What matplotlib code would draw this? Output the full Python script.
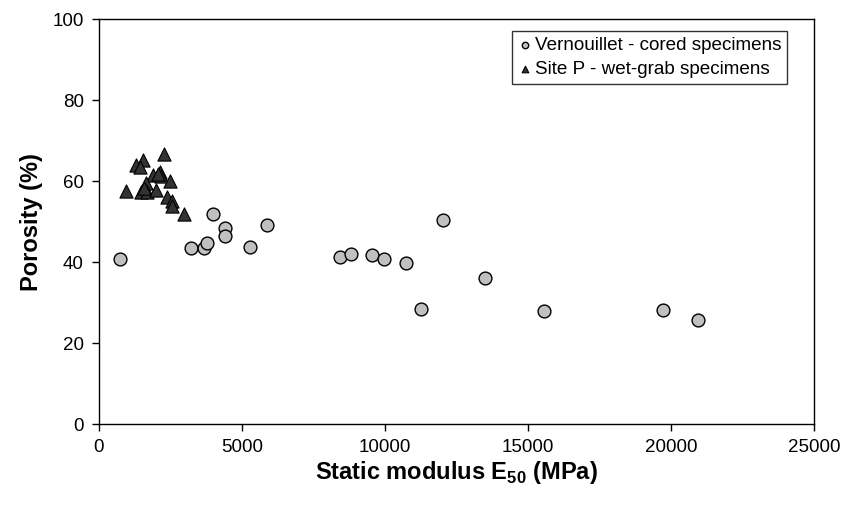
import numpy as np
import matplotlib
matplotlib.use("Agg")
import matplotlib.pyplot as plt

plt.rcParams['font.family'] = ['Liberation Sans', 'DejaVu Sans']
plt.rcParams['mathtext.fontset'] = 'custom'
plt.rcParams['mathtext.rm'] = 'Liberation Sans'
plt.rcParams['mathtext.bf'] = 'Liberation Sans:bold'

# Vernouillet - cored specimens
vern_E = [723, 3226, 3680, 3785, 3974, 4393, 4404, 5267, 5861, 8412,
          8807, 9552, 9950, 10730, 12012, 13502, 11243, 15553, 19701, 20925]
vern_por = [40.8, 43.4, 43.6, 44.8, 52.0, 48.4, 46.5, 43.8, 49.1, 41.4,
            42.1, 41.7, 40.8, 39.9, 50.4, 36.1, 28.4, 28.0, 28.2, 25.8]

# Site P - wet-grab specimens
siteP_E = [2261, 1527, 1283, 1433, 2132, 1887, 2167, 2471, 1643, 944,
           1457, 1667, 1982, 2366, 2562, 2541, 2981, 2060, 1560]
siteP_por = [66.7, 65.3, 64.0, 63.6, 62.4, 61.6, 61.3, 60.1, 59.5, 57.6,
             57.3, 57.4, 57.9, 56.0, 55.0, 54.0, 51.9, 61.8, 58.3]

xticks = [0, 5000, 10000, 15000, 20000, 25000]
yticks = [0, 20, 40, 60, 80, 100]

fig = plt.figure(figsize=(8.46, 5.08), dpi=100)
ax = fig.add_axes([0.117, 0.165, 0.8455, 0.797])

ax.scatter(vern_E, vern_por, s=85, marker='o', facecolor='#c0c0c0',
           edgecolor='black', linewidth=1.0, label='Vernouillet - cored specimens', zorder=3)
ax.scatter(siteP_E, siteP_por, s=90, marker='^', facecolor='#333333',
           edgecolor='black', linewidth=0.8, label='Site P - wet-grab specimens', zorder=3)

ax.set_xlim(0, 25000)
ax.set_ylim(0, 100)
ax.set_xticks(xticks)
ax.set_yticks(yticks)
ax.tick_params(direction='out', length=5, width=1, labelsize=13.5, colors='black', pad=6)
for sp in ax.spines.values():
    sp.set_linewidth(1.0)
    sp.set_color('black')

ax.set_xlabel(r"Static modulus E$_\mathbf{50}$ (MPa)", fontsize=17, fontweight='bold', labelpad=2)
ax.set_ylabel("Porosity (%)", fontsize=17, fontweight='bold', labelpad=7)

leg = ax.legend(loc='upper right', bbox_to_anchor=(0.962, 0.972), fontsize=13.6,
                frameon=True, fancybox=False, edgecolor='black', markerscale=0.5,
                handletextpad=0.2, borderpad=0.3, labelspacing=0.4, handlelength=0.7,
                borderaxespad=0)
leg.get_frame().set_linewidth(1.0)

fig.savefig("out.png", dpi=100)
